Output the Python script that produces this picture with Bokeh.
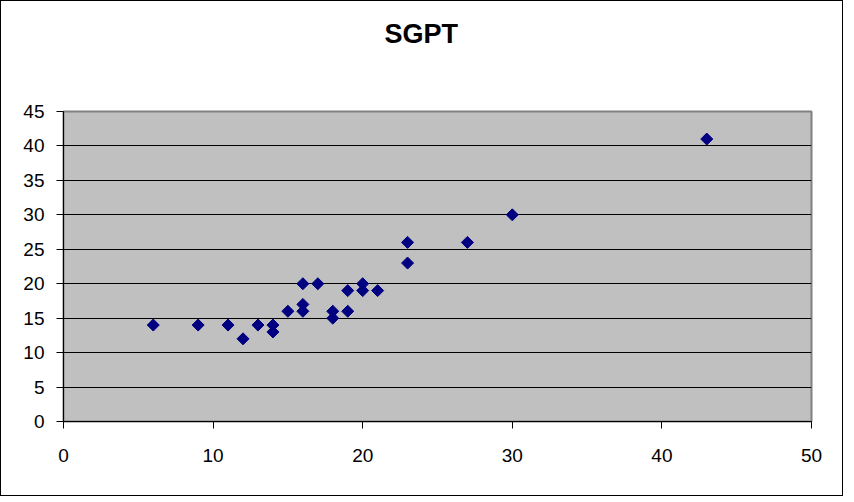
from bokeh.plotting import figure
from bokeh.models import Range1d, FixedTicker, ColumnDataSource, Title
from bokeh.embed import file_html
from bokeh.resources import INLINE
import math

title_text = "SGPT"
x_vals = [6, 9, 11, 12, 13, 14, 14, 15, 16, 16, 16, 17, 18, 18, 19, 19, 20, 20, 21, 23, 23, 27, 30, 43]
y_vals = [14, 14, 14, 12, 14, 14, 13, 16, 20, 17, 16, 20, 16, 15, 19, 16, 20, 19, 19, 26, 23, 26, 30, 41]
x_ticks = [0, 10, 20, 30, 40, 50]
y_ticks = [0, 5, 10, 15, 20, 25, 30, 35, 40, 45]

src = ColumnDataSource(dict(x=x_vals, y=y_vals))

p = figure(width=843, height=496, output_backend="svg", toolbar_location=None,
           title=None,
           x_range=Range1d(0, 50), y_range=Range1d(0, 45),
           min_border_left=62, min_border_right=33, min_border_top=110, min_border_bottom=76)
p.styles = {"border": "1px solid black", "box-sizing": "border-box"}

# spacer panel between the title and the plot area
spacer = Title(text=" ", text_font_size="10px", standoff=40)
p.add_layout(spacer, "above")
main_title = Title(text=title_text, align="left", offset=321, vertical_align="bottom",
                   standoff=20, text_font="Liberation Sans", text_font_size="27px",
                   text_font_style="bold", text_color="black")
p.add_layout(main_title, "above")

p.background_fill_color = "#C0C0C0"
p.border_fill_color = "white"
p.outline_line_color = "#808080"
p.outline_line_width = 2

p.xaxis.ticker = FixedTicker(ticks=x_ticks)
p.yaxis.ticker = FixedTicker(ticks=y_ticks)
for ax in (p.xaxis[0], p.yaxis[0]):
    ax.axis_line_color = "black"
    ax.axis_line_width = 1
    ax.major_tick_line_color = "black"
    ax.major_tick_out = 7
    ax.major_tick_in = 0
    ax.minor_tick_line_color = None
    ax.major_label_text_font = "Liberation Sans"
    ax.major_label_text_font_size = "19px"
    ax.major_label_text_color = "black"
p.xaxis.major_label_standoff = 20
p.yaxis.major_label_standoff = 12

p.xgrid.grid_line_color = None
p.ygrid.ticker = FixedTicker(ticks=[5, 10, 15, 20, 25, 30, 35, 40])
p.ygrid.grid_line_color = "black"
p.ygrid.grid_line_width = 1

p.scatter("x", "y", source=src, marker="square", size=8.5, angle=math.pi / 4,
          fill_color="#000080", line_color="#000080")

open("out.html", "w").write(file_html(p, INLINE))
